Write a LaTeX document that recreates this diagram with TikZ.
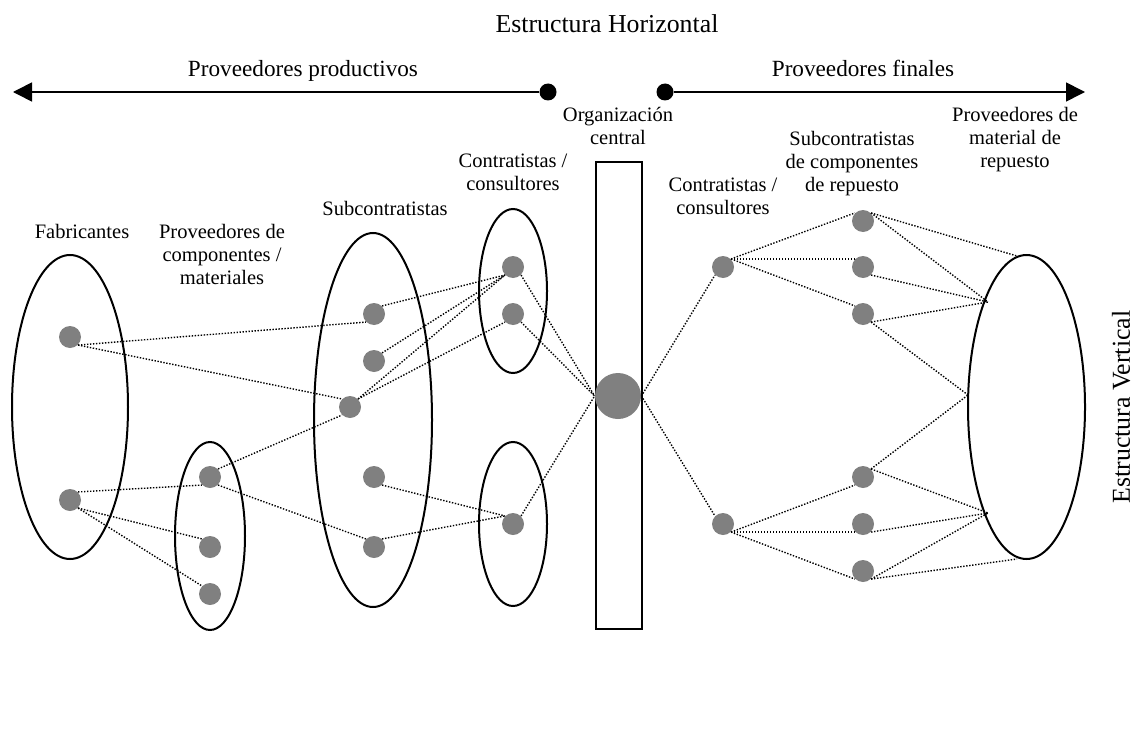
\documentclass[tikz,border=0pt]{standalone}
\usepackage{fontspec}
\setmainfont{Liberation Serif}
\usetikzlibrary{shapes.geometric,arrows.meta}
\definecolor{dotgray}{HTML}{808080}

\begin{document}
\begin{tikzpicture}[x=0.5pt,y=-0.5pt,
  group/.style={draw,ellipse,line width=1pt,inner sep=0pt},
  member/.style={circle,fill=dotgray,inner sep=0pt,minimum size=11pt},
  hub/.style={circle,fill=dotgray,inner sep=0pt,minimum size=23pt},
  endpoint/.style={circle,fill=black,inner sep=0pt,minimum size=8.5pt},
  link/.style={line width=0.7pt,dash pattern=on 0.7pt off 0.8pt},
  axis/.style={line width=0.8pt,-{Triangle[length=9.5pt,width=9.5pt]}},
  lbl/.style={font=\fontsize{10.25}{11.5}\selectfont,align=center,inner sep=0pt},
  head/.style={font=\fontsize{11.6}{13}\selectfont,inner sep=0pt},
  title/.style={font=\fontsize{12.9}{14}\selectfont,inner sep=0pt}
]
\useasboundingbox (0,0) rectangle (1134,738);

% headings and axes
\node[title,anchor=base] (th) at (607,33) {Estructura Horizontal};
\node[head,anchor=base] (hp) at (303,76) {Proveedores productivos};
\node[head,anchor=base] (hf) at (863,76) {Proveedores finales};
\node[title,rotate=90] (tv) at (1121,407) {Estructura Vertical};

\node[endpoint] (dl) at (548,92) {};
\node[endpoint] (dr) at (665,92) {};
\coordinate (tipl) at (13,92);
\coordinate (tipr) at (1085,92);
\draw[axis] (dl) -- (tipl);
\draw[axis] (dr) -- (tipr);

% group labels
\node[lbl,anchor=base] (lfab) at (82,238) {Fabricantes};
\node[lbl] (lprov) at (222,254) {Proveedores de\\componentes /\\materiales};
\node[lbl,anchor=base] (lsub) at (385,215) {Subcontratistas};
\node[lbl] (lcl) at (513,172.5) {Contratistas /\\consultores};
\node[lbl] (lorg) at (618,126) {Organización\\central};
\node[lbl] (lcr) at (723,196.5) {Contratistas /\\consultores};
\node[lbl] (lsr) at (852,164) {Subcontratistas\\de componentes\\de repuesto};
\node[lbl] (lmr) at (1015,140) {Proveedores de\\material de\\repuesto};

% groups
\node[group,minimum width=58pt,minimum height=152pt] (gfab) at (70,407) {};
\node[group,minimum width=35pt,minimum height=94pt] (gprov) at (210,536) {};
\node[group,minimum width=59pt,minimum height=187pt] (gsub) at (373,420) {};
\node[group,minimum width=34pt,minimum height=82pt] (gcl1) at (513,291) {};
\node[group,minimum width=34pt,minimum height=82pt] (gcl2) at (513,524) {};
\node[group,minimum width=58.5pt,minimum height=152pt] (gmr) at (1026.5,407) {};
\node[draw,line width=0.8pt,inner sep=0pt,minimum width=23pt,minimum height=233.5pt] (org) at (619,395.5) {};

% members
\node[member] (f1) at (70,337) {};
\node[member] (f2) at (70,500) {};
\node[member] (p1) at (210,477) {};
\node[member] (p2) at (210,547) {};
\node[member] (p3) at (210,594) {};
\node[member] (s1) at (374,314) {};
\node[member] (s2) at (374,361) {};
\node[member] (s3) at (350,407) {};
\node[member] (s4) at (374,477) {};
\node[member] (s5) at (374,547) {};
\node[member] (c1) at (513,267) {};
\node[member] (c2) at (513,314) {};
\node[member] (c3) at (513,524) {};
\node[hub] (hub) at (618,396) {};
\node[member] (r1) at (723,267) {};
\node[member] (r2) at (723,524) {};
\node[member] (q1) at (863,221) {};
\node[member] (q2) at (863,267) {};
\node[member] (q3) at (863,314) {};
\node[member] (q4) at (863,477) {};
\node[member] (q5) at (863,524) {};
\node[member] (q6) at (863,571) {};

% contact points on the spare-parts ellipse
\coordinate (etop) at (1017,256);
\coordinate (eup) at (988,302);
\coordinate (ewest) at (968,395);
\coordinate (elow) at (988,513);
\coordinate (ebot) at (1017,559);

% productive side links
\draw[link] (f1.south east) -- (s1.south west);
\draw[link] (f1.south east) -- (s3.north west);
\draw[link] (f2.north east) -- (p1.south west);
\draw[link] (f2.south east) -- (p2.north west);
\draw[link] (f2.south east) -- (p3.north west);
\draw[link] (p1.north east) -- (s3.south west);
\draw[link] (p1.south east) -- (s5.north west);
\draw[link] (s1.north east) -- (c1.south west);
\draw[link] (s2.north east) -- (c1.south west);
\draw[link] (s3.north east) -- (c1.south west);
\draw[link] (s3.north east) -- (c2.south west);
\draw[link] (s4.south east) -- (c3.north west);
\draw[link] (s5.north east) -- (c3.north west);
\draw[link] (c1.south east) -- (hub.west);
\draw[link] (c2.south east) -- (hub.west);
\draw[link] (c3.north east) -- (hub.west);

% final side links
\draw[link] (hub.east) -- (r1.south west);
\draw[link] (hub.east) -- (r2.north west);
\draw[link] (r1.north east) -- (q1.north west);
\draw[link] (r1.north east) -- (q2.north west);
\draw[link] (r1.north east) -- (q3.north west);
\draw[link] (r2.south east) -- (q4.south west);
\draw[link] (r2.south east) -- (q5.south west);
\draw[link] (r2.south east) -- (q6.south west);
\draw[link] (q1.north east) -- (etop);
\draw[link] (q1.north east) -- (eup);
\draw[link] (q2.south east) -- (eup);
\draw[link] (q3.south east) -- (eup);
\draw[link] (q3.south east) -- (ewest);
\draw[link] (q4.north east) -- (ewest);
\draw[link] (q4.north east) -- (elow);
\draw[link] (q5.south east) -- (elow);
\draw[link] (q6.south east) -- (elow);
\draw[link] (q6.south east) -- (ebot);
\end{tikzpicture}
\end{document}
